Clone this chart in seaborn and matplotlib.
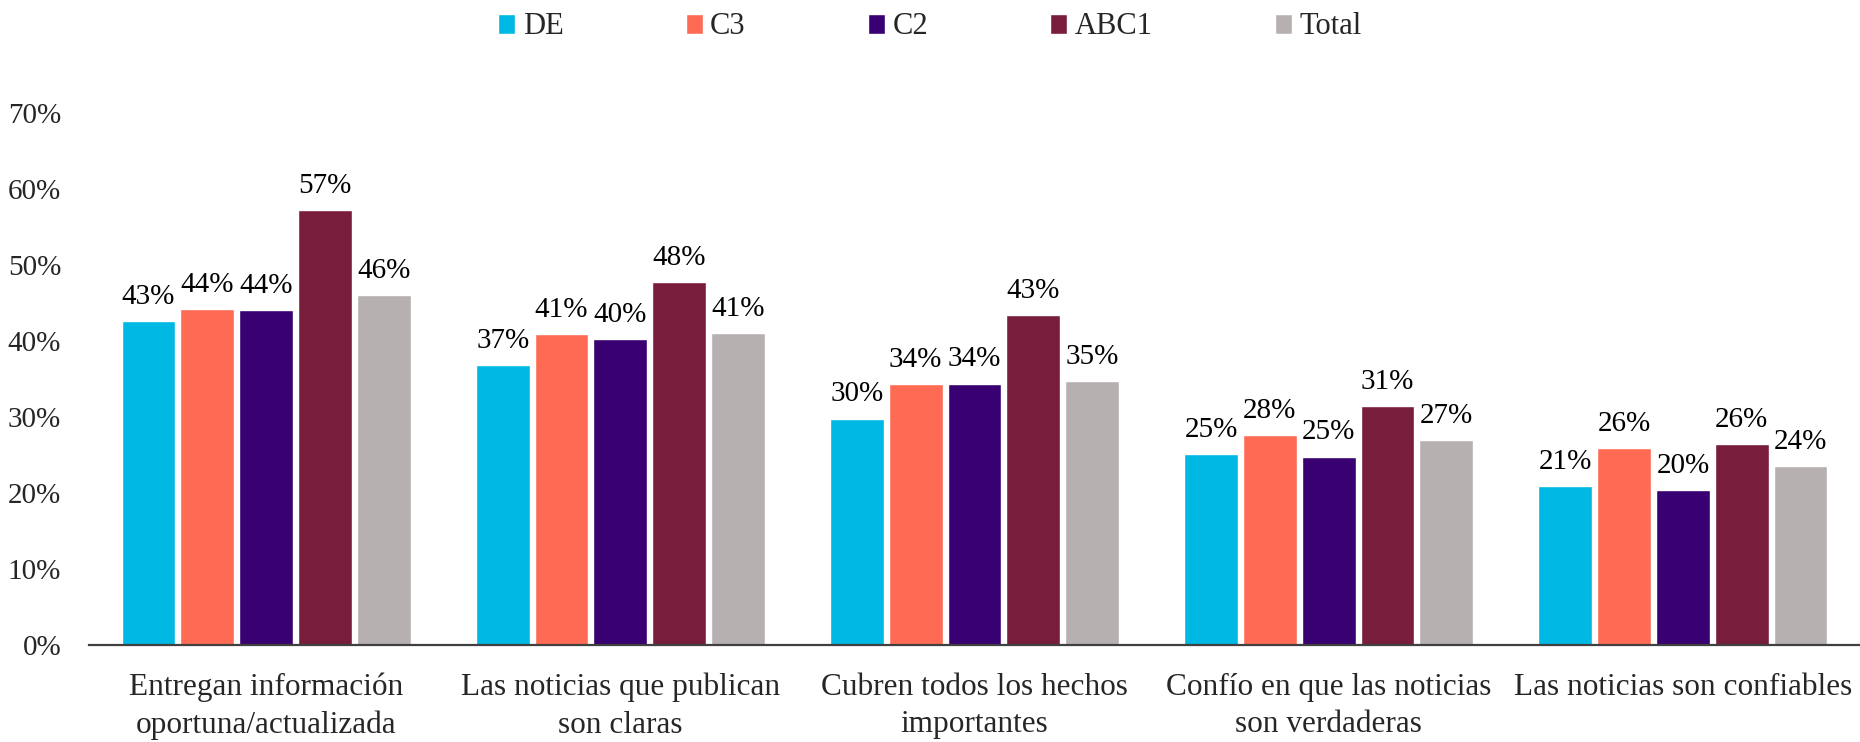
import numpy as np
import pandas as pd
import seaborn as sns
import matplotlib.pyplot as plt

categories = ["Entregan información\noportuna/actualizada",
              "Las noticias que publican\nson claras",
              "Cubren todos los hechos\nimportantes",
              "Confío en que las noticias\nson verdaderas",
              "Las noticias son confiables"]
series = ["DE", "C3", "C2", "ABC1", "Total"]
de = [42.6, 36.8, 29.8, 25.1, 20.9]
c3 = [44.2, 40.9, 34.3, 27.6, 25.9]
c2 = [44.1, 40.3, 34.4, 24.8, 20.4]
abc1 = [57.2, 47.7, 43.4, 31.4, 26.4]
total = [46.0, 41.0, 34.7, 27.0, 23.6]
colors = ["#00B8E4", "#FF6A55", "#380070", "#781D3B", "#B7B0B0"]

# long table for seaborn
df = pd.DataFrame({
    "cat": categories * len(series),
    "grupo": np.repeat(series, len(categories)),
    "valor": de + c3 + c2 + abc1 + total,
})

sns.set_style("white")
plt.rcParams["font.family"] = ["Liberation Serif", "DejaVu Serif"]
fs = 21

fig = plt.figure(figsize=(18.6, 7.42), dpi=100)
ax = fig.add_axes([89 / 1860, 1 - 645 / 742, 1 - 89 / 1860, (645 - 113) / 742])

sns.barplot(data=df, x="cat", y="valor", hue="grupo", hue_order=series,
            palette=colors, width=0.83, gap=0.085, saturation=1,
            ax=ax, legend=True)

for cont in ax.containers:
    ax.bar_label(cont, labels=[f"{v:.0f}%" for v in cont.datavalues],
                 padding=8, fontsize=fs, color="black")

ax.set_ylim(0, 70)
ax.set_yticks(range(0, 71, 10))
ax.set_yticklabels([f"{t}%" for t in range(0, 71, 10)])
ax.set_xlim(-0.5, len(categories) - 0.5)
ax.tick_params(axis="y", length=0, pad=20, labelsize=fs)
ax.tick_params(axis="x", length=0, pad=20, labelsize=22.5)
for lab in ax.get_xticklabels():
    lab.set_linespacing(1.38)
ax.set_xlabel("")
ax.set_ylabel("")
for s in ["top", "right", "left"]:
    ax.spines[s].set_visible(False)
ax.spines["bottom"].set_color("#404040")
ax.spines["bottom"].set_linewidth(1.6)

ax.legend_.remove()
handles, labels = ax.get_legend_handles_labels()
fig.legend(handles, labels, loc="center", bbox_to_anchor=(0.5, 1 - 27 / 742),
           ncol=5, frameon=False, fontsize=22, handlelength=0.55,
           handleheight=0.65, handletextpad=0.25, columnspacing=4.0)

plt.savefig("out.png", dpi=100)
